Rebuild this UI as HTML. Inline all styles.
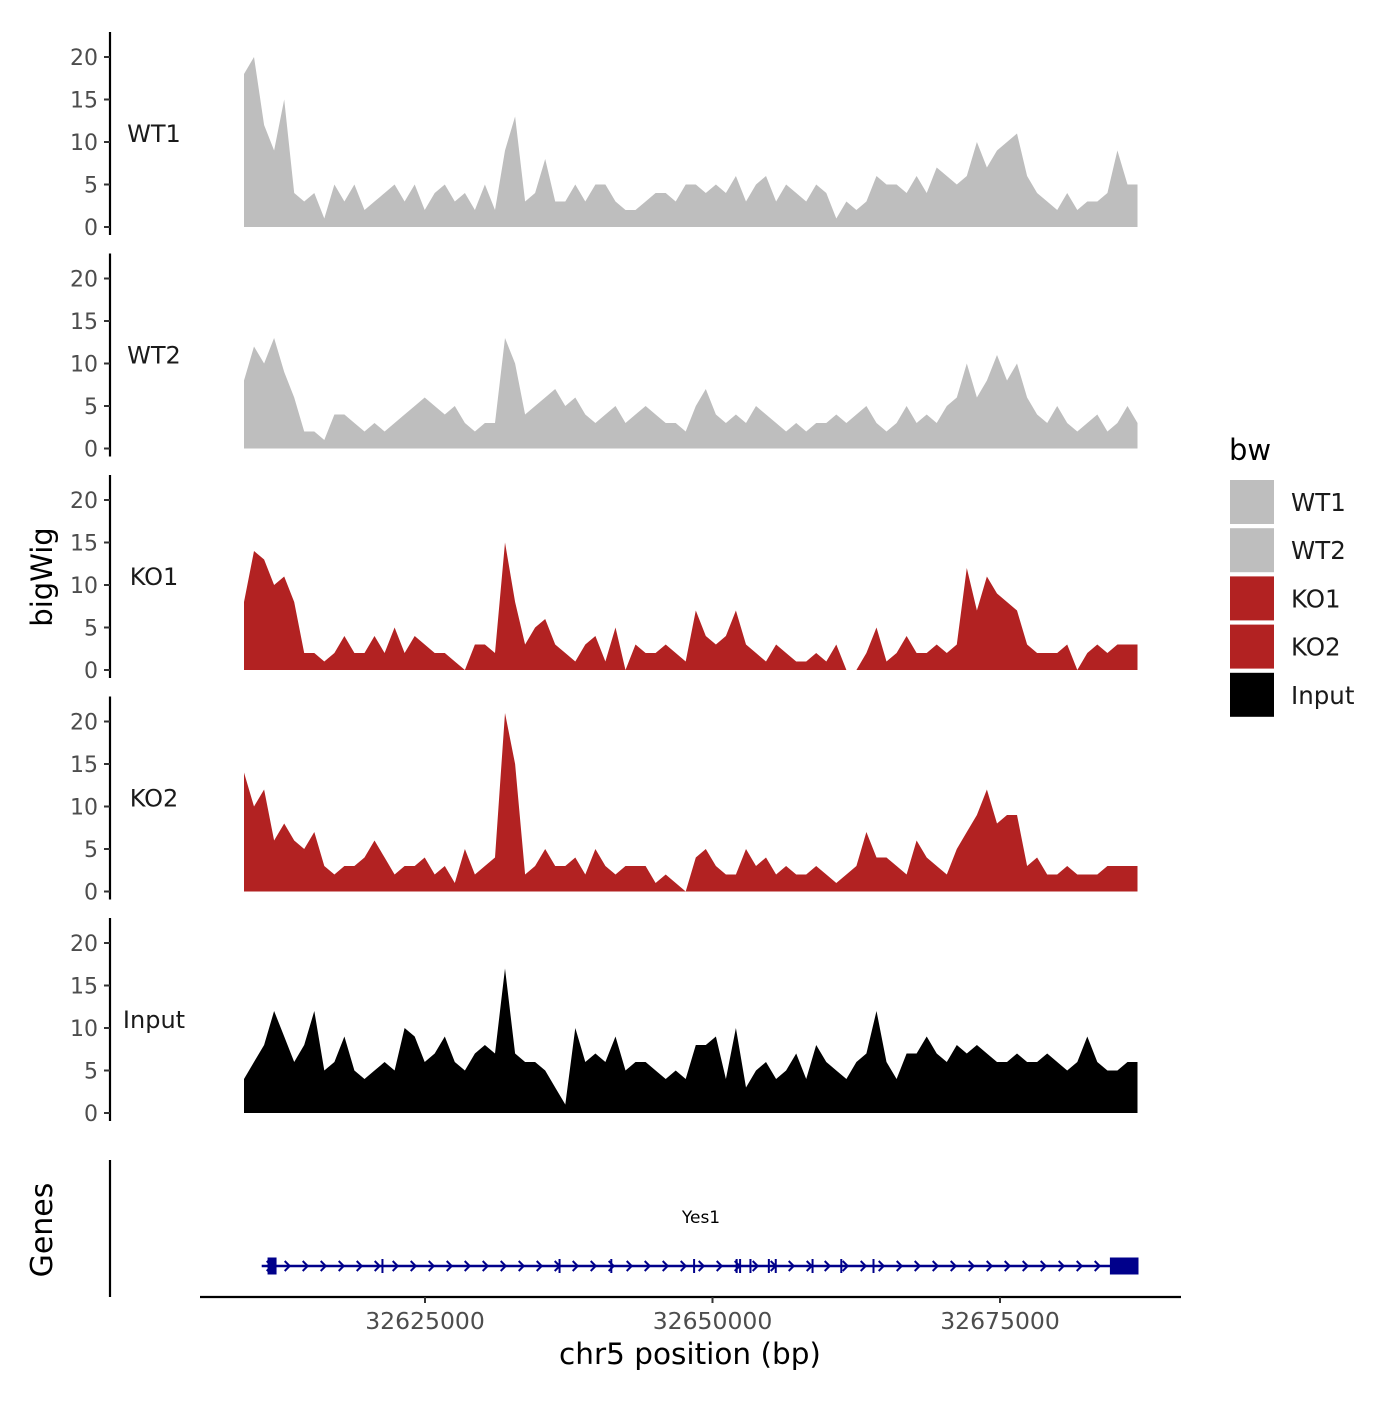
<!DOCTYPE html>
<html><head><meta charset="utf-8"><style>
body{margin:0;background:#fff}
svg{font-family:"DejaVu Sans","Liberation Sans",sans-serif}
</style></head><body>
<svg id="c" width="1400" height="1400" xmlns="http://www.w3.org/2000/svg"></svg>
<script>
const seriesNames=["WT1","WT2","KO1","KO2","Input"];
const seriesColors=["#bebebe","#bebebe","#b22222","#b22222","#000000"];
const wt1=[18,20,12,9,15,4,3,4,1,5,3,5,2,3,4,5,3,5,2,4,5,3,4,2,5,2,9,13,3,4,8,3,3,5,3,5,5,3,2,2,3,4,4,3,5,5,4,5,4,6,3,5,6,3,5,4,3,5,4,1,3,2,3,6,5,5,4,6,4,7,6,5,6,10,7,9,10,11,6,4,3,2,4,2,3,3,4,9,5,5];
const wt2=[8,12,10,13,9,6,2,2,1,4,4,3,2,3,2,3,4,5,6,5,4,5,3,2,3,3,13,10,4,5,6,7,5,6,4,3,4,5,3,4,5,4,3,3,2,5,7,4,3,4,3,5,4,3,2,3,2,3,3,4,3,4,5,3,2,3,5,3,4,3,5,6,10,6,8,11,8,10,6,4,3,5,3,2,3,4,2,3,5,3];
const ko1=[8,14,13,10,11,8,2,2,1,2,4,2,2,4,2,5,2,4,3,2,2,1,0,3,3,2,15,8,3,5,6,3,2,1,3,4,1,5,0,3,2,2,3,2,1,7,4,3,4,7,3,2,1,3,2,1,1,2,1,3,0,0,2,5,1,2,4,2,2,3,2,3,12,7,11,9,8,7,3,2,2,2,3,0,2,3,2,3,3,3];
const ko2=[14,10,12,6,8,6,5,7,3,2,3,3,4,6,4,2,3,3,4,2,3,1,5,2,3,4,21,15,2,3,5,3,3,4,2,5,3,2,3,3,3,1,2,1,0,4,5,3,2,2,5,3,4,2,3,2,2,3,2,1,2,3,7,4,4,3,2,6,4,3,2,5,7,9,12,8,9,9,3,4,2,2,3,2,2,2,3,3,3,3];
const inputVals=[4,6,8,12,9,6,8,12,5,6,9,5,4,5,6,5,10,9,6,7,9,6,5,7,8,7,17,7,6,6,5,3,1,10,6,7,6,9,5,6,6,5,4,5,4,8,8,9,4,10,3,5,6,4,5,7,4,8,6,5,4,6,7,12,6,4,7,7,9,7,6,8,7,8,7,6,6,7,6,6,7,6,5,6,9,6,5,5,6,6];
const allSeries=[wt1,wt2,ko1,ko2,inputVals];
const yTicks=[0,5,10,15,20];
const xTicks=[32625000,32650000,32675000];
const binStart=32609261, binEnd=32686957;
const exonsBp=[32611700,32621300,32636700,32641200,32648400,32652100,32652400,32653300,32654900,32655500,32658700,32661200,32664000,32684600];

const NS="http://www.w3.org/2000/svg";
const svg=document.getElementById('c');
function mk(t,a,p){const e=document.createElementNS(NS,t);for(const k in a)e.setAttribute(k,a[k]);(p||svg).appendChild(e);return e;}
const xScale=bp=>425+(bp-32625000)*287.5/25000;
const yScale=(v,i)=>227+i*221.5-v*8.5;

allSeries.forEach((vals,si)=>{
  const g=mk('g',{});
  
  
  const ax=mk('line',{x1:110,x2:110,y1:32+si*221.5,y2:235+si*221.5,stroke:'#000','stroke-width':2.2},g);
  
  
  yTicks.forEach(t=>{
    const y=yScale(t,si);
    mk('line',{x1:104,x2:110,y1:y,y2:y,stroke:'#333','stroke-width':2},g);
    const tx=mk('text',{x:98,y:y+8,'text-anchor':'end','font-size':22,fill:'#4d4d4d'},g);
    tx.textContent=t;
    
    
  });
  const step=(binEnd-binStart)/(vals.length-1);
  let d='M'+xScale(binStart).toFixed(1)+','+yScale(0,si);
  vals.forEach((v,i)=>{d+=' L'+xScale(binStart+i*step).toFixed(1)+','+yScale(v,si).toFixed(1);});
  d+=' L'+xScale(binEnd).toFixed(1)+','+yScale(0,si)+'Z';
  const area=mk('path',{d:d,fill:seriesColors[si]},g);
  
  
  const lb=mk('text',{x:154,y:yScale(0,si)-85,'text-anchor':'middle','font-size':24,fill:'#1a1a1a'},g);
  lb.textContent=seriesNames[si];
  
  
});

const yt=mk('text',{x:0,y:0,transform:'translate(52,577) rotate(-90)','text-anchor':'middle','font-size':29});
yt.textContent='bigWig';



const gl=mk('line',{x1:110,x2:110,y1:1160,y2:1297,stroke:'#000','stroke-width':2.2});


const gt=mk('text',{x:0,y:0,transform:'translate(52,1230) rotate(-90)','text-anchor':'middle','font-size':30});
gt.textContent='Genes';


const gene=mk('g',{stroke:'#00008b',fill:'#00008b'});


const gs=xScale(32610800), ge=xScale(32687000);
mk('line',{x1:gs,x2:ge,y1:1266,y2:1266,'stroke-width':2.5},gene);
for(let x=gs+8;x<ge-20;x+=18){mk('path',{d:`M${x-3},1261 L${x+2},1266 L${x-3},1271`,fill:'none','stroke-width':2},gene);}
exonsBp.forEach((b,i)=>{const x=xScale(b);
  if(i==0) mk('rect',{x:x-4,y:1258,width:8,height:16},gene);
  else if(i==exonsBp.length-1) mk('rect',{x:x,y:1258,width:ge-x,height:16},gene);
  else mk('line',{x1:x,x2:x,y1:1259,y2:1273,'stroke-width':2},gene);});
const gn=mk('text',{x:701,y:1223,'text-anchor':'middle','font-size':17});
gn.textContent='Yes1';



const xl=mk('line',{x1:200,x2:1181,y1:1297,y2:1297,stroke:'#000','stroke-width':2.2});


xTicks.forEach(t=>{const x=xScale(t);
  mk('line',{x1:x,x2:x,y1:1297,y2:1303,stroke:'#333','stroke-width':2});
  const tx=mk('text',{x:x,y:1329,'text-anchor':'middle','font-size':23.5,fill:'#4d4d4d'});
  tx.textContent=t;
  
  });
const xt=mk('text',{x:690,y:1364,'text-anchor':'middle','font-size':29.5});
xt.textContent='chr5 position (bp)';



const lg=mk('g',{});


const lt=mk('text',{x:1229,y:460,'font-size':29},lg);
lt.textContent='bw';


seriesNames.forEach((n,i)=>{
  const e=mk('g',{},lg);
  
  
  mk('rect',{x:1230,y:480+i*48.2,width:44,height:44,fill:seriesColors[i]},e);
  const t=mk('text',{x:1291,y:511+i*48.2,'font-size':24.5,fill:'#1a1a1a'},e);
  t.textContent=n;
});
</script>
</body></html>
